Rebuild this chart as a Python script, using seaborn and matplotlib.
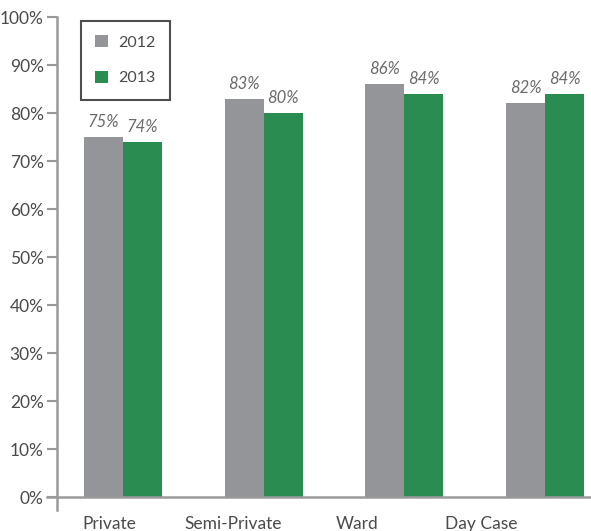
import matplotlib
matplotlib.use("Agg")
import matplotlib.pyplot as plt
import seaborn as sns
import pandas as pd
from matplotlib.ticker import FixedLocator, PercentFormatter

# Occupancy share by room type
categories = ["Private", "Semi-Private", "Ward", "Day Case"]
years = ["2012", "2013"]
values_2012 = [75, 83, 86, 82]
values_2013 = [74, 80, 84, 84]
y_ticks = list(range(0, 101, 10))

GRAY = "#939598"
GREEN = "#2a8c50"
AXIS = "#9a9a9c"
TEXT = "#4a4a4a"

df = pd.DataFrame({
    "category": categories * 2,
    "year": [years[0]] * len(categories) + [years[1]] * len(categories),
    "value": values_2012 + values_2013,
})

sns.set_style("white")
plt.rcParams["font.family"] = ["Lato", "DejaVu Sans"]

W, H = 591, 531
fig = plt.figure(figsize=(W / 100, H / 100), dpi=100)
bottom, height = 1 - 497 / H, 480 / H
ax = fig.add_axes([57 / W, bottom, 1 - 57 / W, height])

sns.barplot(data=df, x="category", y="value", hue="year", order=categories,
            hue_order=years, palette=[GRAY, GREEN], width=0.555, gap=0,
            saturation=1, linewidth=0, ax=ax, legend=True)

ax.set_ylim(0, 100)
ax.set_xlim(-0.469, 3.326)
ax.set_xlabel("")
ax.set_ylabel("")
ax.set_xticks([])
ax.yaxis.set_major_locator(FixedLocator(y_ticks))
ax.yaxis.set_major_formatter(PercentFormatter(decimals=0))
ax.tick_params(axis="y", direction="out", length=7.5, width=1.5, color=AXIS,
               labelsize=12.5, labelcolor=TEXT, pad=2, left=True)
for side in ("top", "right", "bottom"):
    ax.spines[side].set_visible(False)
ax.spines["left"].set_color(AXIS)
ax.spines["left"].set_linewidth(1.8)
ax.spines["left"].set_bounds(-2.7, 100)

# value labels above each bar
for cont in ax.containers:
    ax.bar_label(cont, labels=[f"{v:.0f}%" for v in cont.datavalues],
                 padding=5, fontsize=12, fontstyle="italic", color="#6a6a6a")

# category axis with boundary ticks, starting left of the value axis
ax2 = fig.add_axes([47 / W, bottom, 1 - 47 / W, height])
ax2.patch.set_visible(False)
ax2.set_xlim(0, (W - 47) / 124)
ax2.set_ylim(0, 1)
ax2.set_yticks([])
ax2.set_xticks(range(1, len(categories)))
ax2.set_xticklabels([])
ax2.set_xticks([i + 0.5 for i in range(len(categories))], minor=True)
ax2.set_xticklabels(categories, minor=True)
ax2.tick_params(axis="x", which="major", direction="out", length=9.5, width=1.8,
                color=AXIS)
ax2.tick_params(axis="x", which="minor", length=0, labelsize=12.5,
                labelcolor=TEXT, pad=14)
for side in ("top", "right", "left"):
    ax2.spines[side].set_visible(False)
ax2.spines["bottom"].set_color(AXIS)
ax2.spines["bottom"].set_linewidth(1.8)

leg = ax.legend(loc="upper left", bbox_to_anchor=(0.045, 0.992), frameon=True,
                fancybox=False, fontsize=11.5, handlelength=0.8, handleheight=0.8,
                handletextpad=0.6, borderpad=0.9, labelspacing=1.3,
                borderaxespad=0)
leg.get_frame().set_edgecolor("#222222")
leg.get_frame().set_linewidth(1.5)
for t in leg.get_texts():
    t.set_color(TEXT)

fig.savefig("out.png", dpi=100)
